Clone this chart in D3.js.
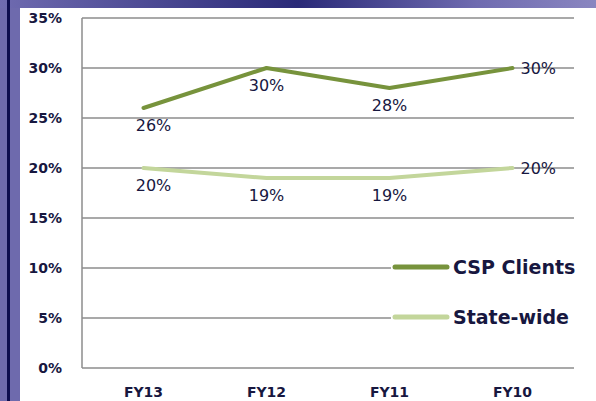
<!DOCTYPE html>
<html>
<head>
<meta charset="utf-8">
<script src="https://cdn.jsdelivr.net/npm/d3@7"></script>
<style>
  body { margin: 0; }
  svg { display: block; font-family: "DejaVu Sans", sans-serif; }
</style>
</head>
<body>
<div id="chart"></div>
<script>
// chart data
var categories = ["FY13", "FY12", "FY11", "FY10"];
var cspClients = [26, 30, 28, 30];
var stateWide = [20, 19, 19, 20];
var yTicks = [0, 5, 10, 15, 20, 25, 30, 35];
var seriesNames = ["CSP Clients", "State-wide"];
var seriesColors = ["#77933c", "#c3d69b"];

var width = 596, height = 401;
var svg = d3.select("#chart").append("svg")
    .attr("width", width)
    .attr("height", height);

// slide background
var defs = svg.append("defs");
var grad = defs.append("linearGradient").attr("id", "topband")
    .attr("x1", "0").attr("x2", "1").attr("y1", "0").attr("y2", "0");
grad.append("stop").attr("offset", "0").attr("stop-color", "#6f6bb0");
grad.append("stop").attr("offset", "0.5").attr("stop-color", "#2a2a78");
grad.append("stop").attr("offset", "0.8").attr("stop-color", "#6f6bb0");
grad.append("stop").attr("offset", "1").attr("stop-color", "#8a86c0");

svg.append("rect").attr("width", width).attr("height", height).attr("fill", "#6e6aad");
svg.append("rect").attr("width", width).attr("height", 8).attr("fill", "url(#topband)");
svg.append("rect").attr("x", 7).attr("width", 3).attr("height", height).attr("fill", "#0d0d4f");
svg.append("rect").attr("x", 20).attr("y", 8).attr("width", width - 20).attr("height", height - 8).attr("fill", "#ffffff");

var margin = {left: 82, right: 22, top: 18, bottom: 33};
var x = d3.scaleBand().domain(categories).range([margin.left, width - margin.right]);
var y = d3.scaleLinear().domain([0, 35]).range([height - margin.bottom, margin.top]);

var textColor = "#17173f";

// gridlines
svg.append("g").selectAll("line").data(yTicks).enter().append("line")
    .attr("x1", margin.left).attr("x2", width - margin.right)
    .attr("y1", function(d) { return y(d); })
    .attr("y2", function(d) { return y(d); })
    .attr("stroke", "#8c8c8c").attr("stroke-width", 1.5);

// y axis line
svg.append("line")
    .attr("x1", margin.left).attr("x2", margin.left)
    .attr("y1", y(35)).attr("y2", y(0))
    .attr("stroke", "#8c8c8c").attr("stroke-width", 1.5);

// y tick labels
svg.append("g").selectAll("text").data(yTicks).enter().append("text")
    .attr("x", 62).attr("y", function(d) { return y(d); })
    .attr("dy", "0.36em")
    .attr("text-anchor", "end")
    .attr("font-size", 14).attr("font-weight", "bold")
    .attr("fill", textColor)
    .text(function(d) { return d + "%"; });

// x tick labels
svg.append("g").selectAll("text").data(categories).enter().append("text")
    .attr("x", function(d) { return x(d) + x.bandwidth() / 2; })
    .attr("y", 392).attr("dy", "0.36em")
    .attr("text-anchor", "middle")
    .attr("font-size", 14).attr("font-weight", "bold")
    .attr("fill", textColor)
    .text(function(d) { return d; });

// legend box (covers gridlines)
var legend = svg.append("g");
legend.append("rect").attr("x", 391).attr("y", 248).attr("width", 190).attr("height", 90).attr("fill", "#ffffff");

var line = d3.line()
    .x(function(d, i) { return x(categories[i]) + x.bandwidth() / 2; })
    .y(function(d) { return y(d); });

[cspClients, stateWide].forEach(function(values, si) {
    svg.append("path")
        .datum(values)
        .attr("d", line)
        .attr("fill", "none")
        .attr("stroke", seriesColors[si])
        .attr("stroke-width", 4)
        .attr("stroke-linejoin", "round")
        .attr("stroke-linecap", "round");

    var last = values.length - 1;
    svg.append("g").selectAll("text").data(values).enter().append("text")
        .attr("x", function(d, i) {
            var cx = x(categories[i]) + x.bandwidth() / 2;
            if (i === last) return cx + 8;
            return i === 0 ? cx + 10 : cx;
        })
        .attr("y", function(d, i) {
            return i === last ? y(d) : y(d) + 17;
        })
        .attr("dy", "0.36em")
        .attr("text-anchor", function(d, i) { return i === last ? "start" : "middle"; })
        .attr("font-size", 16)
        .attr("fill", textColor)
        .text(function(d) { return d + "%"; });
});

// legend entries
seriesNames.forEach(function(name, i) {
    var ly = 267 + i * 50;
    legend.append("line")
        .attr("x1", 395).attr("x2", 447)
        .attr("y1", ly).attr("y2", ly)
        .attr("stroke", seriesColors[i]).attr("stroke-width", 5)
        .attr("stroke-linecap", "round");
    legend.append("text")
        .attr("x", 453).attr("y", ly).attr("dy", "0.36em")
        .attr("font-size", 19).attr("font-weight", "bold")
        .attr("fill", textColor)
        .text(name);
});
</script>
</body>
</html>
